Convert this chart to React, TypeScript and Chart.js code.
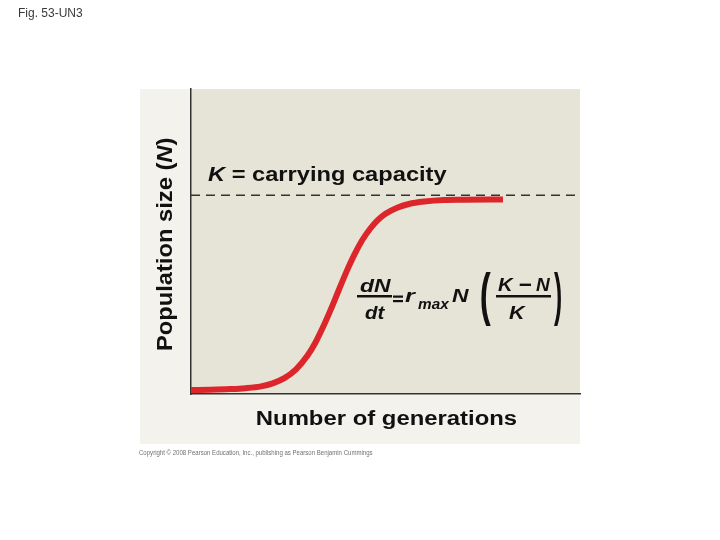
import React, { useEffect, useRef } from "react";
import { Chart, registerables } from "chart.js";

Chart.register(...registerables);

// ---- data ----
const generations = [0, 5, 10, 14, 18, 21, 24, 27, 30, 32, 34, 36, 38, 40, 42, 44, 46, 48, 50, 53, 56, 60, 65, 70, 80.2];
const populationSize = [1.3, 1.4, 1.6, 1.9, 2.5, 3.5, 5.2, 8.1, 12.7, 16.9, 22.1, 27.9, 34.1, 40.2, 45.7, 50.4, 54.1, 57.0, 59.1, 61.1, 62.3, 63.1, 63.6, 63.7, 63.8];
const carryingCapacity = 65.2;
const xRange = [0, 100];
const yRange = [0, 100];

// ---- texts ----
const figLabel = "Fig. 53-UN3";
const xTitle = "Number of generations";
const yTitleRuns: [string, boolean][] = [["Population size (", false], ["N", true], [")", false]];
const kLabelRuns: [string, boolean][] = [["K", true], [" = carrying capacity", false]];
const copyright = "Copyright \u00A9 2008 Pearson Education, Inc., publishing as Pearson Benjamin Cummings";

const FAMILY = '"Liberation Sans", Arial, Helvetica, sans-serif';
const font = (size: number, bold: boolean, italic: boolean) =>
  `${italic ? "italic " : ""}${bold ? "bold " : ""}${size}px ${FAMILY}`;

function fitInk(ctx: CanvasRenderingContext2D, text: string, f: string, x0: number, x1: number, baseline: number) {
  ctx.font = f;
  const m = ctx.measureText(text);
  const w = m.actualBoundingBoxLeft + m.actualBoundingBoxRight;
  const sx = w > 0 ? (x1 - x0) / w : 1;
  ctx.save();
  ctx.translate(x0, baseline);
  ctx.scale(sx, 1);
  ctx.textAlign = "left";
  ctx.textBaseline = "alphabetic";
  ctx.fillText(text, m.actualBoundingBoxLeft, 0);
  ctx.restore();
}

function fitBox(ctx: CanvasRenderingContext2D, text: string, f: string, x0: number, x1: number, y0: number, y1: number) {
  ctx.font = f;
  const m = ctx.measureText(text);
  const w = m.actualBoundingBoxLeft + m.actualBoundingBoxRight;
  const h = m.actualBoundingBoxAscent + m.actualBoundingBoxDescent;
  const sx = w > 0 ? (x1 - x0) / w : 1;
  const sy = h > 0 ? (y1 - y0) / h : 1;
  ctx.save();
  ctx.translate(x0, y0);
  ctx.scale(sx, sy);
  ctx.textAlign = "left";
  ctx.textBaseline = "alphabetic";
  ctx.fillText(text, m.actualBoundingBoxLeft, m.actualBoundingBoxAscent);
  ctx.restore();
}

function fitRuns(ctx: CanvasRenderingContext2D, runs: [string, boolean][], size: number, x0: number, x1: number, baseline: number) {
  const parts = runs.map(([t, it]) => {
    const f = font(size, true, it);
    ctx.font = f;
    return { t, f, m: ctx.measureText(t) };
  });
  let pen = 0;
  const starts: number[] = [];
  parts.forEach((p) => {
    starts.push(pen);
    pen += p.m.width;
  });
  const inkLeft = -parts[0].m.actualBoundingBoxLeft;
  const last = parts[parts.length - 1];
  const inkRight = starts[starts.length - 1] + last.m.actualBoundingBoxRight;
  const sx = (x1 - x0) / (inkRight - inkLeft);
  ctx.save();
  ctx.translate(x0, baseline);
  ctx.scale(sx, 1);
  ctx.textAlign = "left";
  ctx.textBaseline = "alphabetic";
  parts.forEach((p, i) => {
    ctx.font = p.f;
    ctx.fillText(p.t, starts[i] - inkLeft, 0);
  });
  ctx.restore();
}

const backdrop = {
  id: "backdrop",
  beforeDraw(chart: any) {
    const { ctx, chartArea: a } = chart;
    ctx.save();
    ctx.fillStyle = "#ffffff";
    ctx.fillRect(0, 0, chart.width, chart.height);
    ctx.fillStyle = "#f3f2ec";
    ctx.fillRect(a.left - 51, a.top, a.right - a.left + 51, a.bottom - a.top + 50);
    ctx.fillStyle = "#e6e4d6";
    ctx.fillRect(a.left, a.top, a.right - a.left, a.bottom - a.top);
    ctx.restore();
  },
};

const annotations = {
  id: "annotations",
  afterDraw(chart: any) {
    const { ctx } = chart;
    ctx.save();
    ctx.fillStyle = "#3a3a3a";
    fitInk(ctx, figLabel, font(12, false, false), 18, 83, 17);

    ctx.fillStyle = "#111111";
    // K label
    fitRuns(ctx, kLabelRuns, 21, 208, 447, 181);
    // x title
    fitRuns(ctx, [[xTitle, false]], 20, 257, 517, 425);
    // y title (rotated)
    ctx.save();
    ctx.translate(172, 350);
    ctx.rotate(-Math.PI / 2);
    fitRuns(ctx, yTitleRuns, 22, 0, 212, 0);
    ctx.restore();

    // equation dN/dt = r_max N ((K - N)/K)
    const bi = (s: number) => font(s, true, true);
    fitInk(ctx, "dN", bi(19), 360, 392, 292);
    ctx.fillRect(357, 295, 35, 2.5);
    fitInk(ctx, "dt", bi(19), 365, 385, 319);
    ctx.fillRect(393, 295.5, 10, 2.2);
    ctx.fillRect(393, 300, 10, 2.2);
    fitInk(ctx, "r", bi(19), 405, 417, 302);
    fitInk(ctx, "max", bi(14), 418, 450, 309);
    fitInk(ctx, "N", bi(19), 452, 470, 302);
    fitBox(ctx, "(", font(56, true, false), 481, 491, 272, 326);
    fitInk(ctx, "K", bi(19), 498, 514, 291);
    fitBox(ctx, "\u2013", font(19, true, false), 519, 531, 283, 285.5);
    fitInk(ctx, "N", bi(19), 536, 551, 291);
    ctx.fillRect(496, 295, 55, 2.5);
    fitInk(ctx, "K", bi(19), 509, 526, 319);
    fitBox(ctx, ")", font(56, true, false), 554, 561, 272, 326);

    // copyright
    ctx.fillStyle = "#707070";
    fitInk(ctx, copyright, font(7, false, false), 139, 373, 455);
    ctx.restore();
  },
};

export default function App() {
  const ref = useRef<HTMLCanvasElement | null>(null);
  useEffect(() => {
    if (!ref.current) return;
    const chart = new Chart(ref.current, {
      type: "line",
      data: {
        datasets: [
          {
            label: "Population size",
            data: generations.map((g, i) => ({ x: g, y: populationSize[i] })),
            borderColor: "#dc262c",
            borderWidth: 6,
            pointRadius: 0,
            fill: false,
            cubicInterpolationMode: "monotone",
          },
          {
            label: "Carrying capacity",
            data: xRange.map((x) => ({ x, y: carryingCapacity })),
            borderColor: "#333333",
            borderWidth: 1.5,
            borderDash: [9, 6],
            pointRadius: 0,
            fill: false,
          },
        ],
      },
      options: {
        responsive: false,
        animation: false,
        layout: { padding: { left: 191, top: 89, right: 140, bottom: 146 } },
        plugins: { legend: { display: false }, tooltip: { enabled: false }, title: { display: false } },
        scales: {
          x: {
            type: "linear",
            min: xRange[0],
            max: xRange[1],
            ticks: { display: false },
            grid: { display: false, drawTicks: false },
            border: { display: true, color: "#333333", width: 1.5 },
          },
          y: {
            type: "linear",
            min: yRange[0],
            max: yRange[1],
            ticks: { display: false },
            grid: { display: false, drawTicks: false },
            border: { display: true, color: "#333333", width: 1.5 },
          },
        },
      },
      plugins: [backdrop, annotations],
    });
    return () => chart.destroy();
  }, []);
  return (
    <div style={{ position: "absolute", left: 0, top: 0, width: 720, height: 540 }}>
      <canvas ref={ref} width={720} height={540} style={{ width: 720, height: 540, display: "block" }} />
    </div>
  );
}
